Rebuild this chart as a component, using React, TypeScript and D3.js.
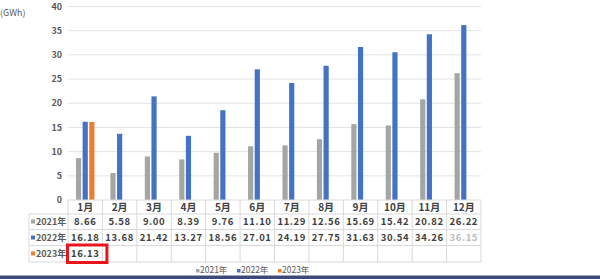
import React from "react";
import * as d3 from "d3";

const months = ["1月", "2月", "3月", "4月", "5月", "6月", "7月", "8月", "9月", "10月", "11月", "12月"];
const seriesNames = ["2021年", "2022年", "2023年"];
const v2021 = [8.66, 5.58, 9.0, 8.39, 9.76, 11.1, 11.29, 12.56, 15.69, 15.42, 20.82, 26.22];
const v2022 = [16.18, 13.68, 21.42, 13.27, 18.56, 27.01, 24.19, 27.75, 31.63, 30.54, 34.26, 36.15];
const v2023 = [16.13];
const yTicks = [0, 5, 10, 15, 20, 25, 30, 35, 40];
const colors = ["#a5a5a5", "#4472c4", "#ed7d31"];
const unitLabel = "(GWh)";

const W = 600;
const H = 279;

export default function App() {
  const series = [v2021, v2022, v2023];
  const x = d3.scaleBand<string>().domain(months).range([68, 481]).padding(0);
  const inner = d3
    .scaleBand<string>()
    .domain(seriesNames)
    .range([0, x.bandwidth()])
    .paddingInner(0.22)
    .paddingOuter(1.2);
  const y = d3.scaleLinear().domain([0, 40]).range([200, 6.5]);
  const fmt = d3.format(".2f");
  const font = "'Noto Sans CJK SC', 'Noto Sans', sans-serif";
  const rowLines = [214, 229.5, 245.5, 262];
  const rowCenters = [221.5, 237.5, 253.5];
  const tableLeft = 29;
  const gridColor = "#e3e3e3";
  const lineColor = "#d9d9d9";
  const textColor = "#404040";

  return (
    <svg
      width={W}
      height={H}
      style={{ position: "absolute", left: 0, top: 0, background: "#fff" }}
      fontFamily={font}
    >
      <rect x={0} y={0} width={W} height={H} fill="#fff" />
      <text x={0} y={16} fontSize={9} fill="#595959">{unitLabel}</text>
      {yTicks.map((t) => (
        <g key={t}>
          {t > 0 && <line x1={68} x2={481} y1={y(t)} y2={y(t)} stroke={gridColor} strokeWidth={1} />}
          <text x={62} y={y(t)} dy="0.35em" textAnchor="end" fontSize={9} fontWeight={700} fill="#595959">
            {t}
          </text>
        </g>
      ))}
      {months.map((m, i) =>
        series.map((vals, s) =>
          vals[i] !== undefined ? (
            <rect
              key={m + s}
              x={(x(m) as number) + (inner(seriesNames[s]) as number)}
              y={y(vals[i])}
              width={inner.bandwidth()}
              height={y(0) - y(vals[i])}
              fill={colors[s]}
            />
          ) : null
        )
      )}
      {/* table */}
      <line x1={68} x2={481} y1={200} y2={200} stroke={lineColor} />
      {rowLines.map((ly) => (
        <line key={ly} x1={tableLeft} x2={481} y1={ly} y2={ly} stroke={lineColor} />
      ))}
      <line x1={tableLeft} x2={tableLeft} y1={214} y2={262} stroke={lineColor} />
      {months.map((m) => (
        <line key={"v" + m} x1={x(m)} x2={x(m)} y1={200} y2={262} stroke={lineColor} />
      ))}
      <line x1={481} x2={481} y1={200} y2={262} stroke={lineColor} />
      {months.map((m) => (
        <text
          key={"h" + m}
          x={(x(m) as number) + x.bandwidth() / 2}
          y={207.5}
          dy="0.35em"
          textAnchor="middle"
          fontSize={10}
          fontWeight={700}
          fill={textColor}
        >
          {m}
        </text>
      ))}
      {seriesNames.map((n, s) => (
        <g key={n}>
          <rect x={31} y={rowCenters[s] - 2} width={4} height={4} fill={colors[s]} />
          <text x={36} y={rowCenters[s]} dy="0.35em" fontSize={9} fontWeight={700} fill="#595959">
            {n}
          </text>
          {series[s].map((v, i) => (
            <text
              key={i}
              x={(x(months[i]) as number) + x.bandwidth() / 2}
              y={rowCenters[s]}
              dy="0.35em"
              textAnchor="middle"
              fontSize={9.5}
              fontWeight={700}
              letterSpacing={0.6}
              fill={s === 1 && i === 11 ? "#bdbdbd" : textColor}
            >
              {fmt(v)}
            </text>
          ))}
        </g>
      ))}
      {/* red highlight box */}
      <rect
        x={(x(months[0]) as number) - 0.5}
        y={245}
        width={x.bandwidth() + 5}
        height={17.5}
        fill="none"
        stroke="#e8161b"
        strokeWidth={3}
      />
      {/* legend */}
      {seriesNames.map((n, s) => (
        <g key={"lg" + n} transform={`translate(${196 + s * 41},270.5)`}>
          <rect x={0} y={-1.5} width={3.5} height={3.5} fill={colors[s]} />
          <text x={4} y={0} dy="0.35em" fontSize={8.5} fill="#595959">
            {n}
          </text>
        </g>
      ))}
      <rect x={0} y={275.5} width={W} height={4} fill="#3d4a78" />
    </svg>
  );
}
